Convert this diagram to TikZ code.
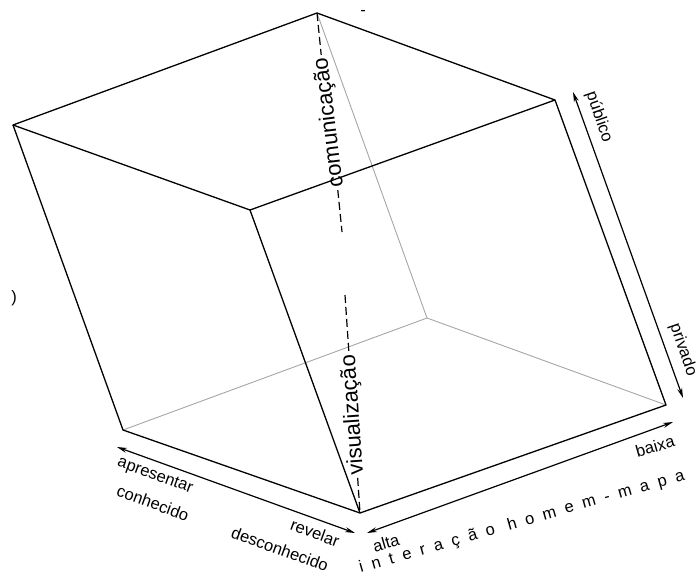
\documentclass[tikz,border=0pt]{standalone}
\usepackage{fontspec}
\setmainfont{Liberation Sans}
\newfontfamily\spacedfont[LetterSpace=55]{Liberation Sans}
\usetikzlibrary{arrows.meta,calc}
\tikzset{
  edge/.style={line width=1.3pt,black,line join=round},
  hidden/.style={line width=0.9pt,gray!70},
  axis/.style={line width=1.2pt,{Stealth[length=10pt,width=5pt]}-{Stealth[length=10pt,width=5pt]}},
  dim/.style={line width=1.2pt,dash pattern=on 8pt off 4pt},
  lbl/.style={font=\fontsize{16.5}{18}\selectfont,inner sep=0pt},
  biglbl/.style={font=\fontsize{22}{24}\selectfont,inner sep=3pt},
}
\begin{document}
\begin{tikzpicture}[x=1pt,y=-1pt]
  \useasboundingbox (0,0) rectangle (700,575);
  % corners of the box
  \coordinate (A) at (13,125);
  \coordinate (B) at (317,13);
  \coordinate (C) at (555,100);
  \coordinate (D) at (250,210);
  \coordinate (E) at (123,430);
  \coordinate (F) at (427,318);
  \coordinate (G) at (666,405);
  \coordinate (H) at (360,513);
  % hidden edges
  \draw[hidden] (B) -- (F);
  \draw[hidden] (E) -- (F) -- (G);
  % visible edges
  \draw[edge] (A) -- (B) -- (C) -- (D) -- cycle;
  \draw[edge] (A) -- (E) -- (H) -- (G) -- (C);
  \draw[edge] (D) -- (H);
  % vertical axis labels
  \coordinate (cEnd) at (342,232);
  \coordinate (vTop) at (345,295);
  \node[biglbl,rotate=97] (com) at ($(B)!0.5!(cEnd)$) {comunicação};
  \node[biglbl,rotate=94] (vis) at ($(vTop)!0.55!(H)$) {visualização};
  \draw[dim] (B) -- (com.east);
  \draw[dim] (com.west) -- (cEnd);
  \draw[dim] (vTop) -- (vis.east);
  \draw[dim] (vis.west) -- (H);
  % axes
  \coordinate (kL) at (117,447);
  \coordinate (kR) at (355,533);
  \coordinate (iL) at (367,533);
  \coordinate (iR) at (673,422);
  \coordinate (pT) at (573,92);
  \coordinate (pB) at (683,398);
  \draw[axis] (kL) -- (kR);
  \draw[axis] (iL) -- (iR);
  \draw[axis] (pT) -- (pB);
  \node[lbl,rotate=-20] (apr) at (155,476) {apresentar};
  \node[lbl,rotate=-20] (con) at (153,503) {conhecido};
  \node[lbl,rotate=-20] (rev) at (315,533) {revelar};
  \node[lbl,rotate=-20] (des) at (280,549) {desconhecido};
  \node[lbl,rotate=16] (alta) at (386,543) {alta};
  \node[lbl,rotate=16] (baixa) at (655,446) {baixa};
  \node[lbl,rotate=16,font=\fontsize{16.5}{18}\spacedfont] (ihm) at (522,522) {interação homem-mapa};
  \node[lbl,rotate=-71] (pub) at (599,117) {público};
  \node[lbl,rotate=-71] (pri) at (683,350) {privado};
  % stray marks
  \node[lbl] (m1) at (14,298) {)};
  \node[lbl] (m2) at (363,13) {-};
\end{tikzpicture}
\end{document}
